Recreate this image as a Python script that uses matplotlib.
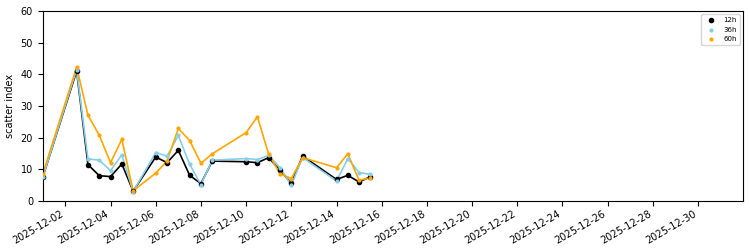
import matplotlib
matplotlib.use("Agg")
import matplotlib.pyplot as plt
import matplotlib.dates as mdates
import pandas as pd

# valid times (same for all lead times)
times = pd.to_datetime([
    "2025-12-01 00:00", "2025-12-02 12:00", "2025-12-03 00:00", "2025-12-03 12:00",
    "2025-12-04 00:00", "2025-12-04 12:00", "2025-12-05 00:00", "2025-12-06 00:00",
    "2025-12-06 12:00", "2025-12-07 00:00", "2025-12-07 12:00", "2025-12-08 00:00",
    "2025-12-08 12:00", "2025-12-10 00:00", "2025-12-10 12:00", "2025-12-11 00:00",
    "2025-12-11 12:00", "2025-12-12 00:00", "2025-12-12 12:00", "2025-12-14 00:00",
    "2025-12-14 12:00", "2025-12-15 00:00", "2025-12-15 12:00",
])

si_12h = [7.5, 41.0, 11.5, 8.0, 7.7, 11.7, 3.1, 13.9, 12.1, 16.0, 8.1, 5.5,
          12.6, 12.4, 12.1, 13.7, 9.7, 5.6, 14.2, 6.8, 8.1, 6.0, 7.7]
si_36h = [7.5, 41.5, 13.3, 12.9, 9.6, 14.6, 3.0, 15.3, 14.2, 20.7, 11.6, 5.2,
          12.9, 13.4, 13.1, 14.4, 10.5, 5.0, 13.7, 6.3, 13.4, 9.0, 8.4]
si_60h = [8.5, 42.3, 27.1, 20.8, 12.1, 19.5, 3.2, 8.8, 12.6, 22.9, 19.1, 11.9,
          14.9, 21.6, 26.6, 14.7, 8.6, 7.1, 13.7, 10.5, 14.9, 6.5, 7.4]

series = [
    ("12h", si_12h, "black", 9),
    ("36h", si_36h, "skyblue", 4),
    ("60h", si_60h, "orange", 4),
]

fig = plt.figure(figsize=(7.5, 2.5), dpi=100)
ax = fig.add_axes([0.057, 0.196, 0.934, 0.76])

for label, vals, color, size in series:
    ax.plot(times, vals, color=color, linewidth=1.2)
    ax.scatter(times, vals, color=color, s=size, label=label, zorder=3)

ax.set_xlim(pd.Timestamp("2025-12-01"), pd.Timestamp("2026-01-01"))
ax.set_ylim(0, 60)
ax.set_ylabel("scatter index", fontsize=7)
ax.tick_params(labelsize=7)
ax.tick_params(axis="x", pad=2)

ax.xaxis.set_major_locator(mdates.DayLocator(bymonthday=range(2, 32, 2)))
ax.xaxis.set_major_formatter(mdates.DateFormatter("%Y-%m-%d"))
for lbl in ax.get_xticklabels():
    lbl.set_rotation(30)
    lbl.set_horizontalalignment("right")

ax.legend(loc="upper right", fontsize=5, markerscale=1.0)

fig.savefig("out.png", dpi=100)
